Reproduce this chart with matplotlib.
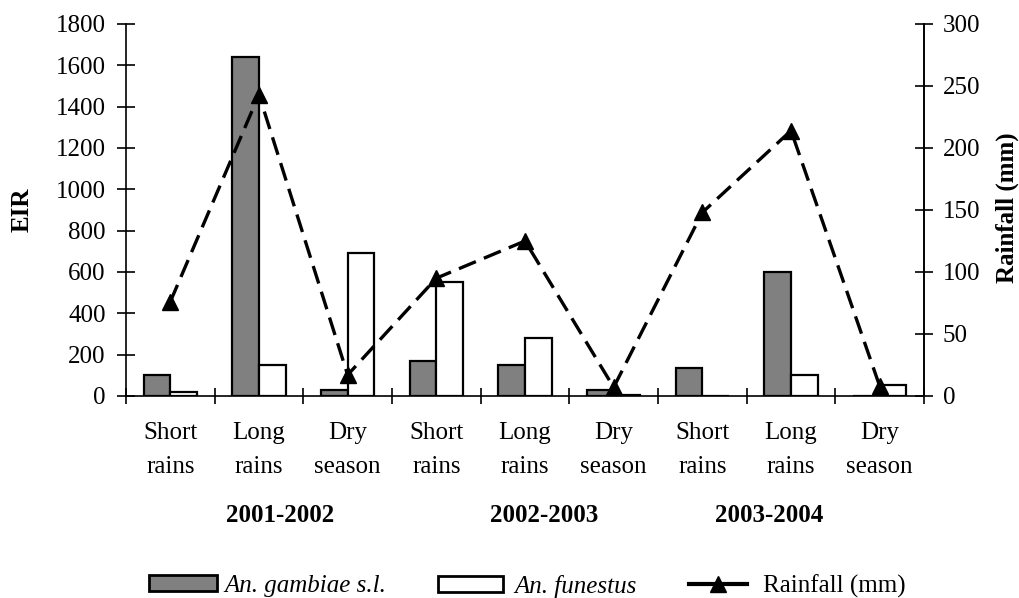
import matplotlib
matplotlib.use('Agg')
import matplotlib.pyplot as plt
from matplotlib.patches import Patch
from matplotlib.lines import Line2D
from matplotlib.transforms import blended_transform_factory
import numpy as np

seasons = ['Short\nrains', 'Long\nrains', 'Dry\nseason'] * 3
years = ['2001-2002', '2002-2003', '2003-2004']
year_pos = [1.24, 4.22, 6.75]
gambiae = [100, 1640, 30, 170, 150, 30, 135, 600, 0]
funestus = [20, 150, 690, 550, 280, 5, 0, 100, 55]
rainfall = [76, 243, 17, 95, 125, 7, 148, 214, 8]

plt.rcParams['font.family'] = ['Liberation Serif', 'DejaVu Serif']
plt.rcParams['font.size'] = 18

fig = plt.figure(figsize=(10.2, 5.98), dpi=100)
ax = fig.add_axes([0.1235, 0.3378, 0.7824, 0.6221])

x = np.arange(len(seasons))
w = 0.3
ax.bar(x - w/2, gambiae, w, color='#808080', edgecolor='black', linewidth=1.6)
ax.bar(x + w/2, funestus, w, color='white', edgecolor='black', linewidth=1.6)

ax.set_xlim(-0.5, len(seasons) - 0.5)
ax.set_ylim(0, 1800)
ax.set_yticks(range(0, 1801, 200))
ax.set_xticks(np.arange(-0.5, len(seasons), 1.0))
ax.set_xticklabels([])
ax.set_xticks(x, minor=True)
ax.set_xticklabels(seasons, minor=True, linespacing=1.7)
ax.tick_params(axis='y', direction='inout', length=13, width=1.2, pad=8)
ax.tick_params(axis='x', which='major', direction='inout', length=12, width=1.2)
ax.tick_params(axis='x', which='minor', length=0, pad=19)
ax.spines['top'].set_visible(False)
for s in ['left', 'bottom', 'right']:
    ax.spines[s].set_linewidth(1.2)

ax2 = ax.twinx()
ax2.plot(x, rainfall, color='black', linestyle='--', dashes=(5.5, 2.6), lw=2.4,
         marker='^', markersize=11)
ax2.set_ylim(0, 300)
ax2.set_yticks(range(0, 301, 50))
ax2.tick_params(axis='y', direction='inout', length=13, width=1.2, pad=7)
for s in ['top', 'left', 'bottom']:
    ax2.spines[s].set_visible(False)
ax2.spines['right'].set_linewidth(1.2)

# season-year groups under the category labels
yr_trans = blended_transform_factory(ax.transData, fig.transFigure)
for yp, yr in zip(year_pos, years):
    ax.text(yp, 1 - 516/598, yr, transform=yr_trans, ha='center', va='center',
            fontweight='bold', fontsize=18)

fig.text(22/1020, 1 - 210/598, 'EIR', rotation=90, ha='center', va='center',
         fontweight='bold', fontsize=18)
fig.text(1007/1020, 1 - 208/598, 'Rainfall (mm)', rotation=90, ha='center', va='center',
         fontweight='bold', fontsize=18)

# legend entries spread along the bottom
leg_y = 1 - 586/598
leg_kw = dict(frameon=False, borderpad=0, borderaxespad=0, loc='center left')
h1 = Patch(facecolor='#808080', edgecolor='black', linewidth=2)
h2 = Patch(facecolor='white', edgecolor='black', linewidth=2)
h3 = Line2D([], [], color='black', linestyle='-', lw=3, marker='^', markersize=11)
fig.legend([h1], ['An. gambiae s.l.'], bbox_to_anchor=(149/1020, leg_y),
           handlelength=2.7, handleheight=0.62, handletextpad=0.3,
           prop={'style': 'italic', 'size': 18, 'family': 'Liberation Serif'}, **leg_kw)
fig.legend([h2], ['An. funestus'], bbox_to_anchor=(438/1020, leg_y),
           handlelength=2.6, handleheight=0.62, handletextpad=0.45,
           prop={'style': 'italic', 'size': 18, 'family': 'Liberation Serif'}, **leg_kw)
fig.legend([h3], ['Rainfall (mm)'], bbox_to_anchor=(689/1020, leg_y),
           handlelength=2.3, handletextpad=0.65,
           prop={'size': 18, 'family': 'Liberation Serif'}, **leg_kw)

plt.savefig('out.png', dpi=100)
